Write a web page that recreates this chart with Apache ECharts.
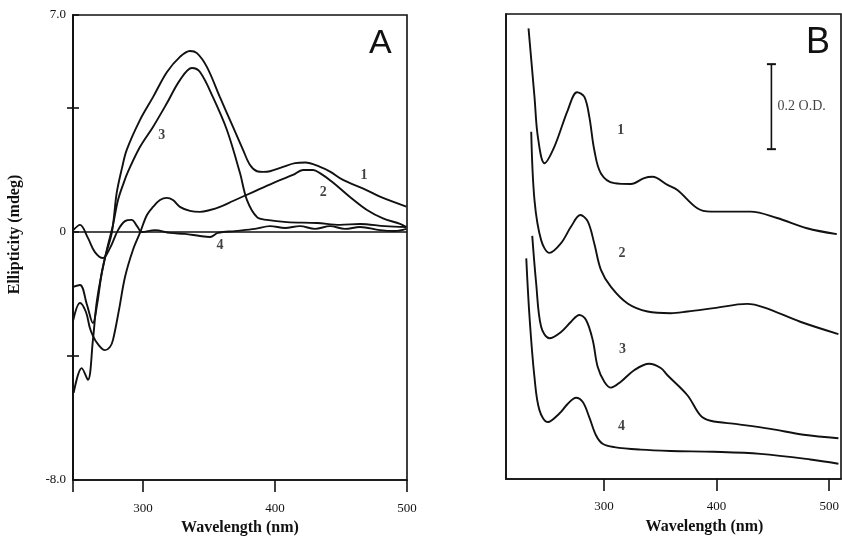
<!DOCTYPE html>
<html><head><meta charset="utf-8">
<script src="https://cdn.jsdelivr.net/npm/echarts@6/dist/echarts.min.js"></script>
<style>html,body{margin:0;padding:0;background:#fff}#c{width:842px;height:537px}</style>
</head><body><div id="c"></div>
<script>
// ---------- Panel A : CD spectra (Ellipticity, mdeg) ----------
const curveA1 = [[247.5,-5.19],[253.6,-4.39],[258.3,-4.77],[262.1,-3.48],[265.2,-2.19],[271.2,-0.84],[276.5,0],[280.1,1.26],[284.1,2.06],[287.7,2.65],[297.7,3.61],[307.6,4.35],[318.2,5.16],[328,5.65],[335.6,5.84],[340.9,5.77],[348.5,5.32],[358.3,4.35],[368.2,3.39],[375.8,2.65],[381.1,2.16],[386.4,1.96],[391,1.94],[396.2,1.96],[406.1,2.10],[415.2,2.22],[423,2.24],[434.1,2.10],[441.7,1.95],[451.5,1.68],[466.9,1.40],[479.5,1.14],[499.5,0.82]];
const curveA2 = [[247.2,-2.84],[252.3,-2.29],[256.8,-2.58],[259.8,-3.10],[262.1,-3.35],[265.2,-3.58],[271.2,-3.81],[275,-3.71],[277.3,-3.48],[281.8,-2.52],[286.4,-1.45],[292.4,-0.58],[297.7,-0.03],[303,0.55],[307.6,0.81],[312.9,1.03],[318,1.10],[322.7,1.03],[328,0.81],[335.6,0.68],[343.2,0.65],[350.8,0.71],[358.3,0.81],[368.2,1.00],[383.3,1.29],[398.5,1.58],[413.6,1.84],[421.2,2.00],[428.8,2.00],[434.1,1.90],[443.9,1.60],[456.8,1.13],[469.7,0.71],[481.8,0.44],[494.7,0.26],[499.5,0.16]];
const curveA3 = [[247.2,-1.77],[252.3,-1.71],[257.6,-2.35],[262.1,-2.94],[265.2,-2.35],[268.9,-1.29],[273.5,-0.42],[277.3,0.23],[281.1,1.03],[285.6,1.61],[288.6,1.94],[297.7,2.74],[307.6,3.39],[318.2,4.16],[328,4.90],[337.1,5.29],[343.2,5.16],[353,4.35],[363.6,3.29],[373.5,1.90],[378.8,1.03],[386.4,0.48],[393.9,0.39],[409.1,0.32],[431.8,0.29],[449.2,0.23],[464.4,0.26],[483.3,0.19],[499.5,0.16]];
const curveA4 = [[247.2,0.06],[252.3,0.23],[258.3,-0.19],[263.6,-0.65],[269.7,-0.84],[275,-0.52],[281.1,0.06],[286.4,0.35],[291.4,0.39],[295.5,0.19],[299.2,0],[309.1,0.06],[320.5,-0.03],[331.8,-0.06],[343.2,-0.13],[350.8,-0.16],[356.8,-0.03],[369.7,0.03],[384.8,0.10],[396.2,0.19],[407.6,0.13],[418.9,0.19],[430.3,0.10],[441.7,0.19],[453,0.10],[464.4,0.16],[479.5,0.06],[490.9,0.03],[499.5,0.10]];
const labelsA = [[314.2,3.13,'3'],[467.4,1.82,'1'],[436.6,1.27,'2'],[358.3,-0.42,'4']];
const xTicksA = [300,400,500];
const yLabelsA = [-8,0,7];
const yTicksA = [-4,4];

// ---------- Panel B : absorption spectra (O.D.) ----------
const curveB1 = [[233,1.060],[238.3,0.899],[241.3,0.805],[247.2,0.743],[256,0.782],[267.9,0.868],[276.1,0.910],[282.6,0.899],[287,0.852],[291.4,0.774],[297.3,0.719],[309.1,0.696],[323.9,0.694],[335.7,0.708],[343.1,0.711],[356.4,0.692],[365.2,0.680],[382.9,0.637],[394.7,0.629],[430.1,0.629],[453.7,0.614],[480.3,0.590],[506.8,0.576]];
const curveB2 = [[235.4,0.817],[238.3,0.656],[244.2,0.562],[251.6,0.532],[261.9,0.555],[270.8,0.594],[279,0.621],[285.6,0.606],[291.4,0.554],[297.3,0.492],[306.2,0.452],[321,0.413],[338.7,0.394],[359.3,0.390],[374.1,0.394],[397.6,0.402],[427.2,0.412],[441.9,0.404],[474.3,0.370],[508.2,0.341]];
const curveB3 = [[236.3,0.572],[239.8,0.460],[244.2,0.358],[251.6,0.331],[261.9,0.346],[270.8,0.370],[278.1,0.386],[284.1,0.374],[290,0.327],[294.4,0.264],[300.3,0.229],[306.2,0.215],[315,0.229],[326.8,0.256],[340.1,0.271],[350.4,0.261],[356.4,0.244],[374.1,0.197],[385.8,0.149],[394.7,0.137],[418.3,0.129],[447.8,0.118],[477.3,0.104],[508.2,0.096]];
const curveB4 = [[231,0.519],[233.9,0.381],[238.3,0.239],[242.7,0.162],[250.2,0.134],[260.4,0.154],[267.9,0.177],[275.2,0.191],[281.2,0.181],[287,0.145],[292.9,0.103],[298.8,0.083],[309.1,0.075],[332.7,0.069],[359.3,0.066],[397.6,0.064],[438.9,0.059],[483.2,0.046],[508.2,0.036]];
const labelsB = [[315,0.821,'1'],[316,0.531,'2'],[316.5,0.306,'3'],[315.5,0.123,'4']];
const xTicksB = [300,400,500];
const scaleBar = [[448.7,0.776],[448.7,0.976]];
const scaleBarLabel = [[451.5,0.876,'0.2 O.D.']];

const INK = '#111';
const serif = 'Liberation Serif';

function curve(data, xi, yi) {
  return {type:'line', xAxisIndex:xi, yAxisIndex:yi, data:data, smooth:0.35, symbol:'none',
    lineStyle:{color:INK, width:1.9}, silent:true, z:3};
}
function labels(data, xi, yi, size, weight, pos) {
  return {type:'scatter', xAxisIndex:xi, yAxisIndex:yi, data:data, symbolSize:0, silent:true, z:5,
    label:{show:true, position:pos||'inside', distance:3, formatter:p=>p.data[2], color:INK,
      fontFamily:serif, fontSize:size, fontWeight:weight}};
}

const titleStyle = {color:INK, fontFamily:serif, fontSize:16, fontWeight:'bold'};

const xA = {gridIndex:0, type:'value', min:247, max:500,
  axisLine:{show:true, onZero:false, lineStyle:{color:INK, width:1.6}},
  axisTick:{show:true, customValues:[247].concat(xTicksA), length:12, lineStyle:{color:INK, width:1.6}},
  axisLabel:{customValues:xTicksA, margin:22, color:INK, fontFamily:serif, fontSize:13},
  splitLine:{show:false},
  name:'Wavelength (nm)', nameLocation:'middle', nameGap:40,
  nameTextStyle:titleStyle};
const xB = {gridIndex:1, type:'value', min:213, max:510.5,
  axisLine:{show:true, onZero:false, lineStyle:{color:INK, width:1.6}},
  axisTick:{show:true, customValues:xTicksB, length:12, lineStyle:{color:INK, width:1.6}},
  axisLabel:{customValues:xTicksB, margin:21, color:INK, fontFamily:serif, fontSize:13},
  splitLine:{show:false},
  name:'Wavelength (nm)', nameLocation:'middle', nameGap:40,
  nameTextStyle:Object.assign({padding:[0,0,0,62]}, titleStyle)};
const xHidden = {gridIndex:2, type:'value', min:247, max:500, show:false};

const yA = {gridIndex:0, type:'value', min:-8, max:7, position:'left',
  axisLine:{show:true, onZero:false, lineStyle:{color:INK, width:1.6}},
  axisTick:{show:true, customValues:yTicksA, length:6, lineStyle:{color:INK, width:1.6}},
  axisLabel:{customValues:yLabelsA, margin:7, color:INK, fontFamily:serif, fontSize:13,
    formatter:v=> v===0 ? '0' : v.toFixed(1)},
  splitLine:{show:false},
  name:'Ellipticity (mdeg)', nameLocation:'middle', nameGap:50, nameRotate:90,
  nameTextStyle:Object.assign({padding:[0,0,0,26]}, titleStyle)};
const yB = {gridIndex:1, type:'value', min:0, max:1.094,
  axisLine:{show:true, onZero:false, lineStyle:{color:INK, width:1.6}},
  axisTick:{show:false}, axisLabel:{show:false}, splitLine:{show:false}};
// inner half of the crossing ticks on panel A's left axis
const yAInner = {gridIndex:2, type:'value', min:-8, max:7, interval:4, position:'left',
  axisLine:{show:true, onZero:false, lineStyle:{color:INK, width:1.6}},
  axisTick:{show:true, inside:true, length:6, lineStyle:{color:INK, width:1.6}},
  axisLabel:{show:false}, splitLine:{show:false}};

const chart = echarts.init(document.getElementById('c'));
chart.setOption({
  animation:false,
  backgroundColor:'#fff',
  grid:[
    {left:73, top:15, width:334, height:465, show:true, borderColor:INK, borderWidth:1.6, containLabel:false, outerBoundsMode:'none'},
    {left:506, top:14, width:335, height:465, show:true, borderColor:INK, borderWidth:1.6, containLabel:false, outerBoundsMode:'none'},
    {left:73, top:15, width:334, height:465, show:false, containLabel:false, outerBoundsMode:'none'}
  ],
  xAxis:[xA, xB, xHidden],
  yAxis:[yA, yB, yAInner],
  graphic:[
    {type:'text', left:369, top:27, style:{text:'A', fontFamily:'Liberation Sans', fontSize:34, fill:INK}},
    {type:'text', left:806, top:25, style:{text:'B', fontFamily:'Liberation Sans', fontSize:36, fill:INK}}
  ],
  series:[
    curve(curveA1,0,0), curve(curveA2,0,0), curve(curveA3,0,0),
    Object.assign(curve(curveA4,0,0), {markLine:{silent:true, symbol:['none','none'], label:{show:false},
      lineStyle:{color:INK, width:1.6, type:'solid'}, data:[{yAxis:0}]}}),
    labels(labelsA,0,0,14,'bold'),
    curve(curveB1,1,1), curve(curveB2,1,1), curve(curveB3,1,1), curve(curveB4,1,1),
    labels(labelsB,1,1,14,'bold'),
    {type:'line', xAxisIndex:1, yAxisIndex:1, data:scaleBar, symbol:'rect', symbolSize:[9,2],
      showSymbol:true, itemStyle:{color:INK}, lineStyle:{color:INK, width:1.6}, silent:true},
    labels(scaleBarLabel,1,1,14,'normal','right'),
    {type:'line', xAxisIndex:2, yAxisIndex:2, data:[], silent:true}
  ]
});
</script></body></html>
